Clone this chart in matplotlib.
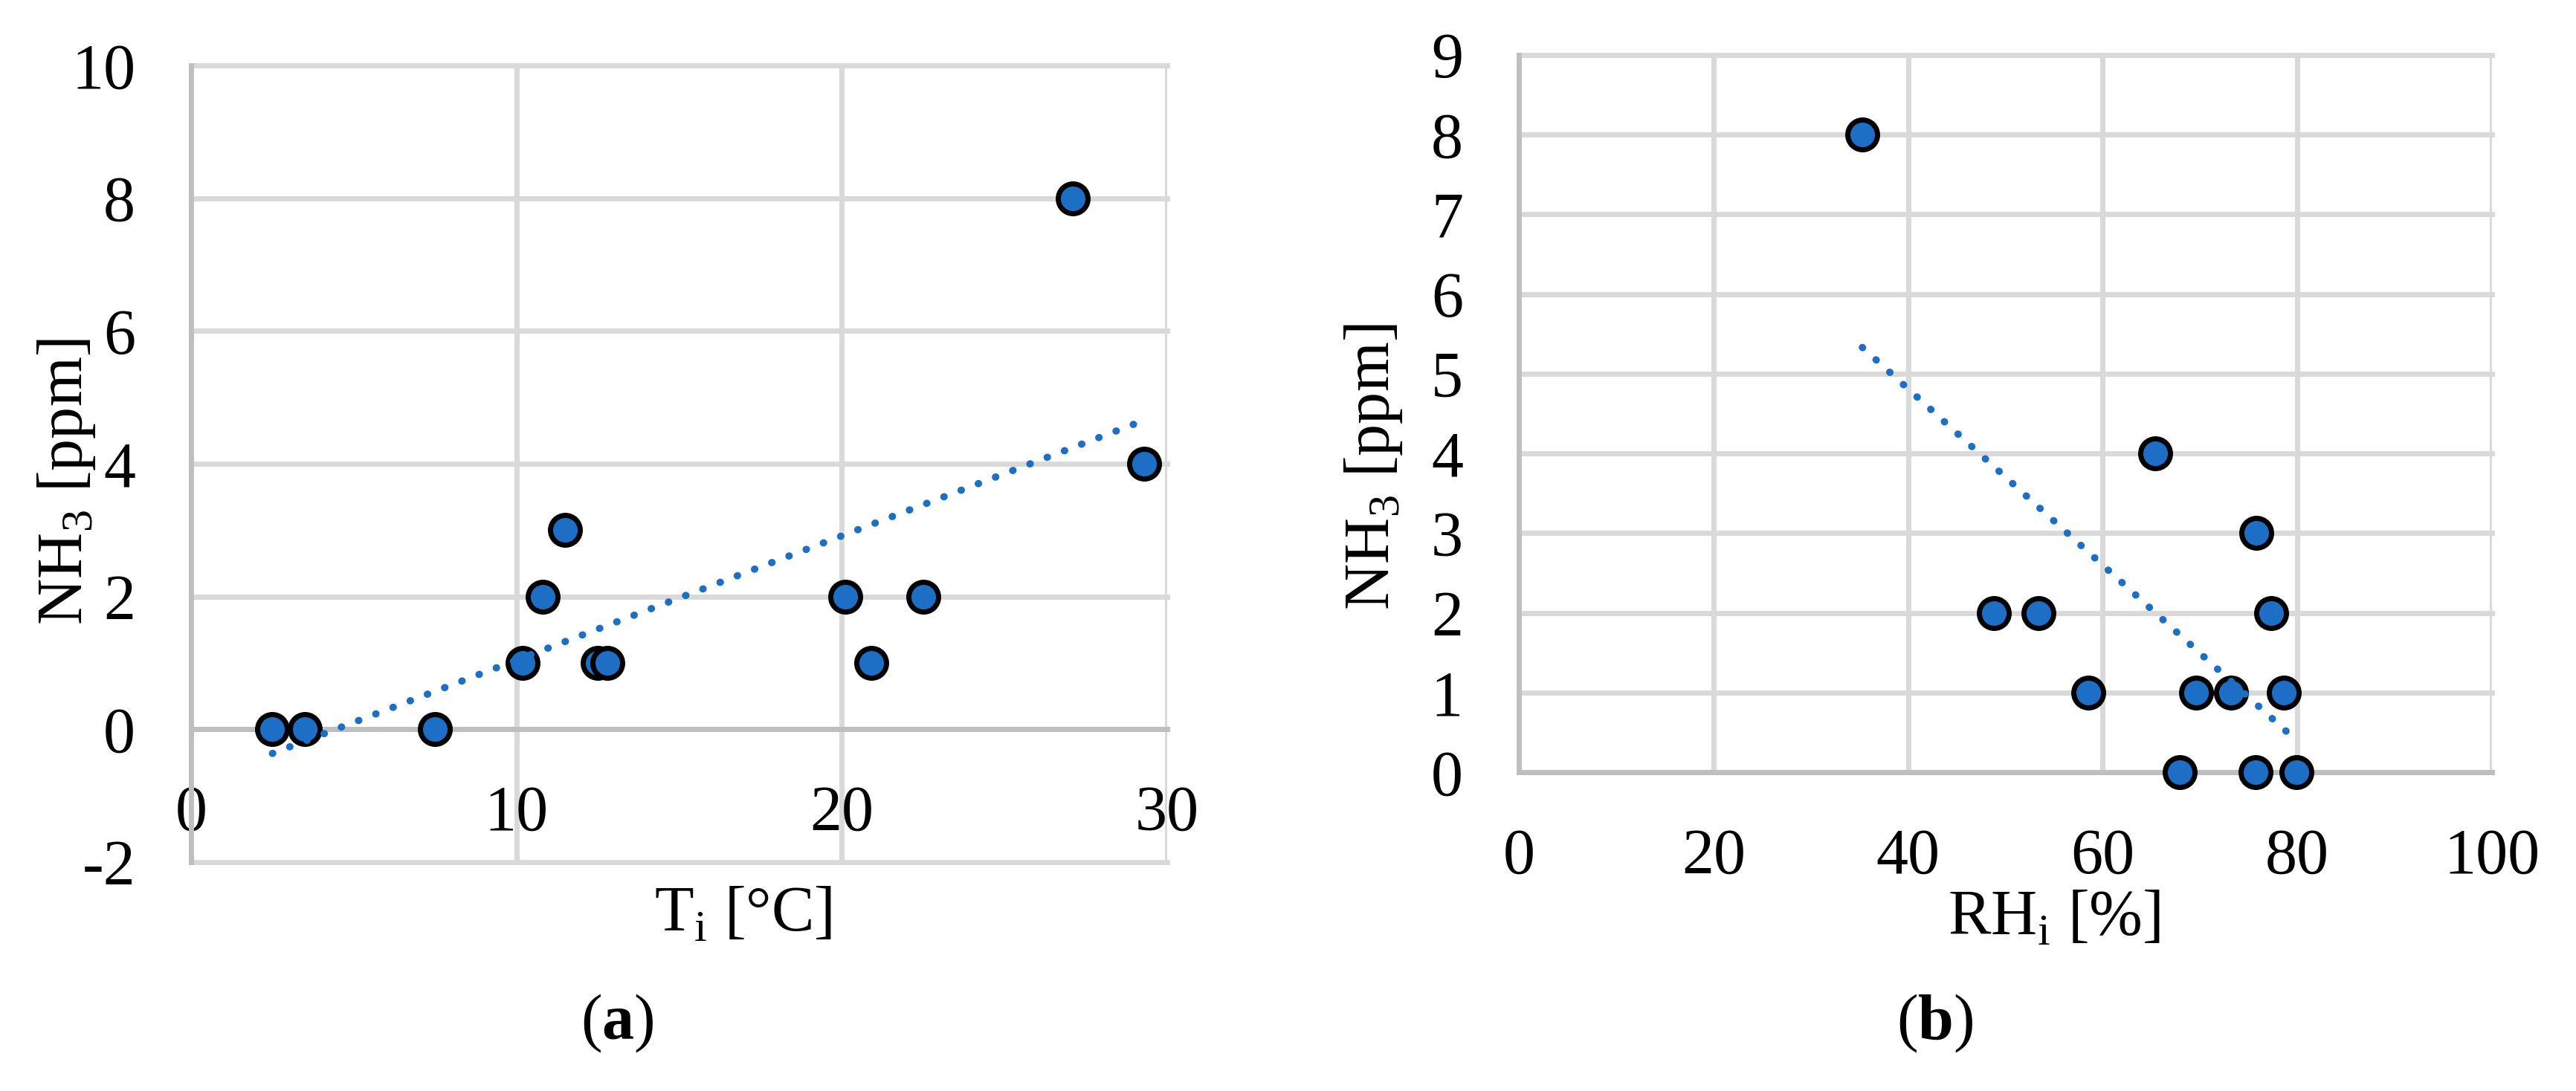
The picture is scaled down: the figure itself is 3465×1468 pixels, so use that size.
import numpy as np
import matplotlib
matplotlib.use("Agg")
import matplotlib.pyplot as plt

# values
temp_in = [2.5, 3.5, 7.5, 10.2, 10.8, 11.5, 12.5, 12.8, 20.1, 20.9, 22.5, 27.1, 29.3]
nh3_a = [0, 0, 0, 1, 2, 3, 1, 1, 2, 1, 2, 8, 4]
rh_in = [35.3, 48.8, 53.4, 58.5, 65.4, 67.9, 69.6, 73.2, 75.7, 75.8, 77.3, 78.6, 79.9]
nh3_b = [8, 2, 2, 1, 4, 0, 1, 1, 0, 3, 2, 1, 0]

ticks_a_x = [0, 10, 20, 30]
ticks_a_y = [-2, 0, 2, 4, 6, 8, 10]
ticks_b_x = [0, 20, 40, 60, 80, 100]
ticks_b_y = list(range(0, 10))

plt.rcParams['font.family'] = ['Liberation Serif', 'DejaVu Serif']
plt.rcParams['mathtext.fontset'] = 'custom'
plt.rcParams['mathtext.rm'] = 'Liberation Serif'
plt.rcParams['mathtext.bf'] = 'Liberation Serif:bold'
plt.rcParams['axes.unicode_minus'] = False

W, H = 3465, 1468
BLUE = '#1c6fc4'
GRID = '#d9d9d9'
AXIS = '#bfbfbf'
FS = 62

fig = plt.figure(figsize=(W / 100, H / 100), dpi=100)


def px_axes(x0, x1, ytop, ybot):
    return fig.add_axes([x0 / W, 1 - ybot / H, (x1 - x0) / W, (ybot - ytop) / H])


def style(ax, xlim, ylim, xt, yt):
    ax.set_xlim(xlim)
    ax.set_ylim(ylim)
    ax.set_xticks(xt)
    ax.set_yticks(yt)
    ax.set_axisbelow(True)
    ax.grid(True, color=GRID, linewidth=5)
    for gl in ax.get_xgridlines() + ax.get_ygridlines():
        gl.set_clip_on(False)
    for s in ['top', 'right']:
        ax.spines[s].set_visible(False)
    for s in ['left', 'bottom']:
        ax.spines[s].set_color(AXIS)
        ax.spines[s].set_linewidth(5)
    ax.spines['bottom'].set_position(('data', 0))
    ax.tick_params(length=0, labelsize=FS, pad=54)


def scatter_trend(ax, x, y):
    ax.scatter(x, y, s=830, color=BLUE, edgecolor='black', linewidth=5,
               zorder=3, clip_on=False)
    k, b = np.polyfit(x, y, 1)
    xs = np.array([min(x), max(x)])
    ax.plot(xs, k * xs + b, color=BLUE, linewidth=7,
            linestyle=(0, (0.05, 2.5)), dash_capstyle='round', zorder=4)


ax1 = px_axes(257, 1570, 88, 1160)
style(ax1, (0, 30), (-2, 10), ticks_a_x, ticks_a_y)
scatter_trend(ax1, temp_in, nh3_a)

ax2 = px_axes(2043, 3352, 74, 1039)
style(ax2, (0, 100), (0, 9), ticks_b_x, ticks_b_y)
scatter_trend(ax2, rh_in, nh3_b)


def ftext(x, y, s, **kw):
    fig.text(x / W, 1 - y / H, s, fontsize=FS, va='baseline', ha='center', **kw)


ftext(110, 648, r'NH$_3$ [ppm]', rotation=90, rotation_mode='anchor')
ftext(1868, 628, r'NH$_3$ [ppm]', rotation=90, rotation_mode='anchor')
ftext(1000, 1253, r'T$_\mathrm{i}$ [°C]')
ftext(2763, 1258, r'RH$_\mathrm{i}$ [%]')
ftext(830, 1398, r'($\mathbf{a}$)')
ftext(2603, 1398, r'($\mathbf{b}$)')

fig.savefig('out.png', dpi=100, facecolor='white')
